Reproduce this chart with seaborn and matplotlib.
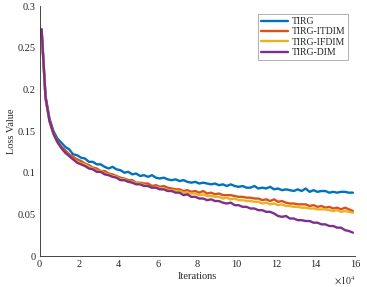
import numpy as np
import pandas as pd
import matplotlib
matplotlib.use("Agg")
import matplotlib.pyplot as plt
import seaborn as sns

# iterations (x), every 2000 iterations starting at 1000
iterations = np.arange(1000, 161000, 2000)

tirg = [
    .272, .192, .165, .150, .141, .136, .131, .128, .122, .121,
    .118, .117, .113, .113, .110, .110, .107, .105, .107, .104,
    .103, .100, .101, .098, .099, .096, .097, .095, .097, .094,
    .093, .094, .092, .091, .092, .090, .091, .089, .088, .089,
    .087, .088, .087, .086, .087, .085, .086, .084, .086, .084,
    .083, .084, .082, .082, .084, .081, .082, .081, .083, .080,
    .081, .079, .080, .079, .078, .080, .078, .081, .077, .079,
    .077, .078, .078, .076, .077, .076, .077, .077, .076, .076,
]
tirg_itdim = [
    .270, .190, .163, .148, .138, .131, .127, .122, .119, .116,
    .114, .111, .109, .106, .105, .102, .102, .099, .098, .096,
    .094, .093, .091, .091, .088, .088, .087, .087, .084, .085,
    .083, .084, .082, .081, .080, .080, .078, .079, .077, .078,
    .076, .078, .075, .076, .074, .075, .073, .073, .073, .072,
    .071, .071, .070, .070, .069, .069, .067, .068, .066, .068,
    .065, .066, .064, .063, .063, .062, .062, .062, .060, .061,
    .059, .060, .058, .059, .057, .058, .056, .058, .056, .054,
]
tirg_ifdim = [
    .270, .188, .161, .146, .136, .129, .124, .120, .116, .113,
    .111, .110, .107, .105, .102, .102, .099, .098, .096, .095,
    .092, .092, .089, .089, .087, .087, .085, .084, .082, .083,
    .081, .081, .079, .079, .078, .078, .076, .076, .075, .075,
    .073, .074, .072, .072, .071, .071, .069, .070, .068, .069,
    .067, .067, .066, .066, .065, .065, .063, .064, .062, .063,
    .061, .062, .060, .060, .059, .059, .058, .058, .057, .057,
    .056, .056, .056, .055, .054, .055, .053, .054, .053, .052,
]
tirg_dim = [
    .272, .190, .162, .147, .137, .130, .124, .120, .116, .112,
    .110, .108, .105, .104, .101, .101, .098, .097, .095, .094,
    .091, .091, .089, .088, .086, .086, .084, .084, .082, .082,
    .080, .080, .078, .078, .076, .076, .073, .074, .071, .071,
    .069, .069, .067, .068, .066, .066, .064, .063, .064, .061,
    .061, .059, .059, .057, .057, .055, .055, .053, .053, .051,
    .048, .047, .048, .045, .045, .043, .043, .042, .042, .040,
    .040, .038, .038, .036, .036, .034, .034, .031, .030, .028,
]

names = ["TIRG", "TIRG-ITDIM", "TIRG-IFDIM", "TIRG-DIM"]
colors = ["#0072BD", "#D95319", "#EDB120", "#7E2F8E"]

df = pd.concat([
    pd.DataFrame({"it": iterations / 1e4, "loss": vals, "method": name})
    for name, vals in zip(names, [tirg, tirg_itdim, tirg_ifdim, tirg_dim])
])

sns.set_style("white")
plt.rcParams["font.family"] = ["Liberation Serif", "DejaVu Serif"]
plt.rcParams["mathtext.fontset"] = "stix"

fig = plt.figure(figsize=(3.67, 2.87), dpi=100)
ax = fig.add_axes([0.108, 0.108, 0.859, 0.871])

sns.lineplot(data=df, x="it", y="loss", hue="method", hue_order=names,
             palette=colors, linewidth=1.7, ax=ax)

ax.set_xlim(0, 16)
ax.set_ylim(0, 0.3)
ax.set_xticks(range(0, 17, 2))
ax.set_yticks([0, 0.05, 0.1, 0.15, 0.2, 0.25, 0.3])
ax.set_yticklabels(["0", "0.05", "0.1", "0.15", "0.2", "0.25", "0.3"])
ax.tick_params(direction="in", length=3, width=0.6, labelsize=7.5,
               colors="#262626", pad=3)
for s in ["top", "right"]:
    ax.spines[s].set_visible(False)
for s in ["left", "bottom"]:
    ax.spines[s].set_color("#262626")
    ax.spines[s].set_linewidth(0.6)

ax.set_xlabel("Iterations", fontsize=7.5, color="#262626", labelpad=2)
ax.set_ylabel("Loss Value", fontsize=7.5, color="#262626", labelpad=1)
ax.text(1.0, -0.075, r"$\times10^{4}$", transform=ax.transAxes,
        ha="right", va="top", fontsize=7, color="#262626")

leg = ax.legend(loc="upper right", bbox_to_anchor=(0.978, 0.968),
                borderaxespad=0, fontsize=7, frameon=True, fancybox=False,
                handlelength=2.8, handletextpad=0.3, labelspacing=0.15,
                borderpad=0.3)
leg.get_frame().set_edgecolor("#8c8c8c")
leg.get_frame().set_linewidth(0.6)

fig.savefig("out.png", dpi=100)
